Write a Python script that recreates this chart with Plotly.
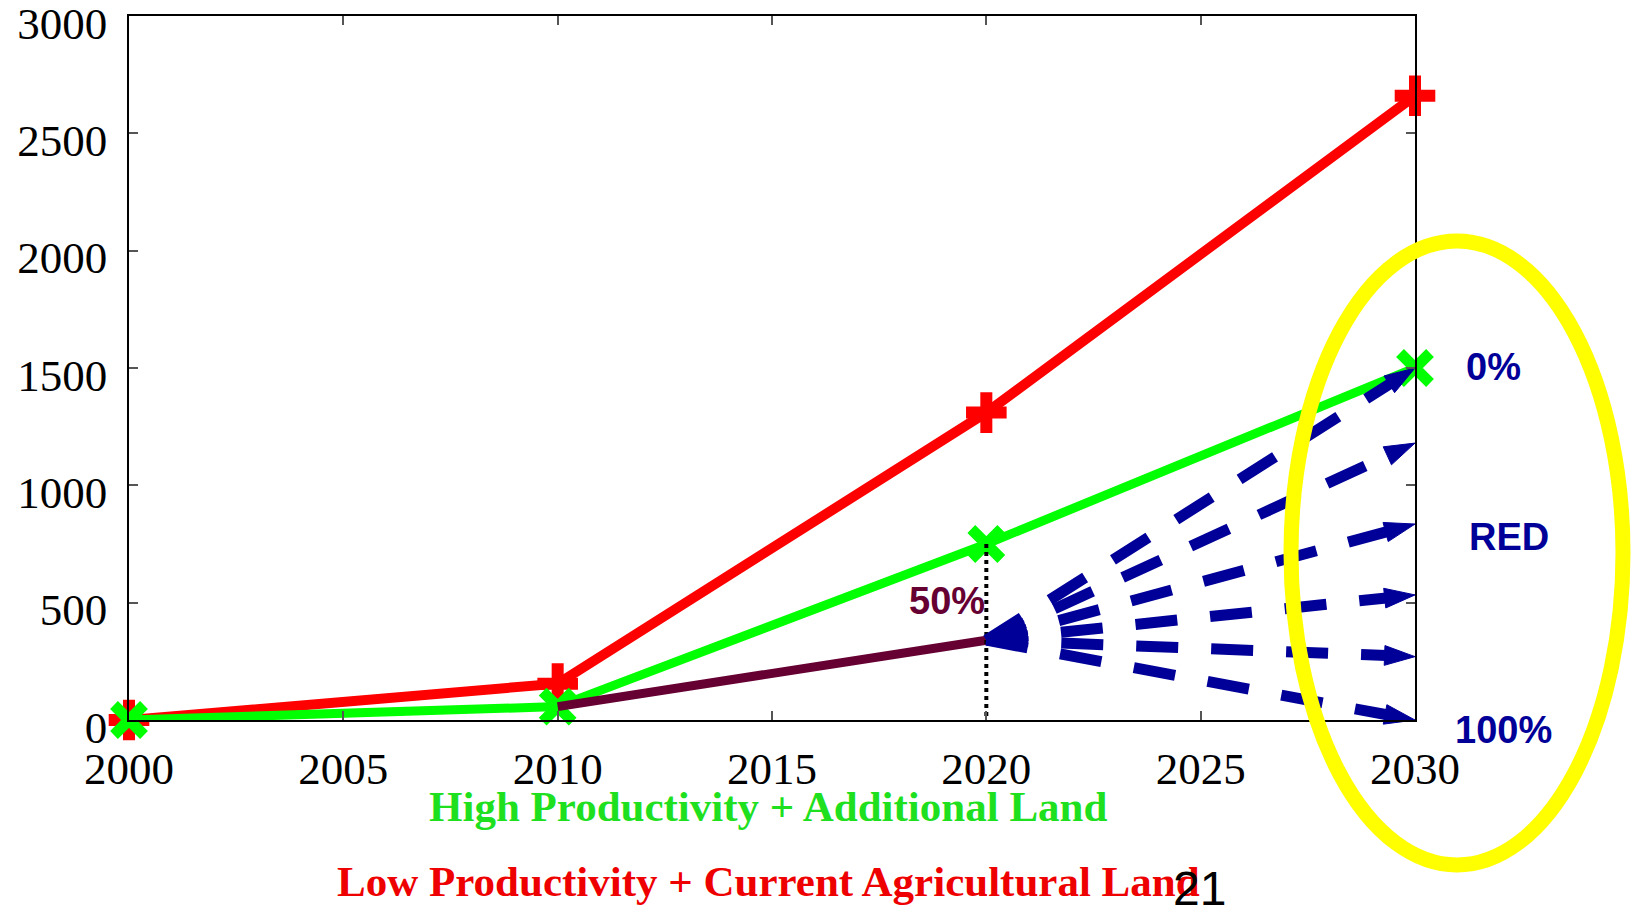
import plotly.graph_objects as go

# ---------------- data ----------------
years = [2000, 2010, 2020, 2030]
low_prod_current_land = [0, 155, 1310, 2660]      # red
high_prod_additional_land = [0, 57, 750, 1500]     # green
red_path_years = [2010, 2020]
red_path_values = [57, 340]                         # dark maroon (50%)
arrow_start_year = 2020
arrow_start_value = 340
arrow_end_year = 2030
arrow_end_values = [1500, 1180, 835, 533, 270, 0]  # 0% ... 100%

x_ticks = [2000, 2005, 2010, 2015, 2020, 2025, 2030]
y_ticks = [0, 500, 1000, 1500, 2000, 2500, 3000]

# ---------------- layout geometry ----------------
W_PAGE, H_PAGE = 1633, 905
L, T, PW, PH = 129, 16, 1286, 704


def px(x):
    return (x - L) / PW


def py(y):
    return (T + PH - y) / PH


RED = "#FF0000"
GREEN = "#00FF00"
MAROON = "#660033"
BLUE = "#000099"
SERIF = "Liberation Serif, Times New Roman, serif"
SANS = "Liberation Sans, Arial, sans-serif"

fig = go.Figure()

# red line
fig.add_trace(go.Scatter(
    x=years, y=low_prod_current_land, mode="lines+markers",
    line=dict(color=RED, width=10),
    marker=dict(symbol="cross-thin", size=29, line=dict(color=RED, width=12)),
    showlegend=False, hoverinfo="skip", cliponaxis=False))

# green line
fig.add_trace(go.Scatter(
    x=years, y=high_prod_additional_land, mode="lines+markers",
    line=dict(color=GREEN, width=9),
    marker=dict(symbol="x-thin", size=30, line=dict(color=GREEN, width=11)),
    showlegend=False, hoverinfo="skip", cliponaxis=False))

# maroon path
fig.add_trace(go.Scatter(
    x=red_path_years, y=red_path_values, mode="lines",
    line=dict(color=MAROON, width=9),
    showlegend=False, hoverinfo="skip"))

# dotted vertical at 2020
fig.add_trace(go.Scatter(
    x=[years[2], years[2]], y=[high_prod_additional_land[2], 0], mode="lines",
    line=dict(color="black", width=4, dash="dot"),
    showlegend=False, hoverinfo="skip"))

# dashed blue arrows
for v in arrow_end_values:
    fig.add_trace(go.Scatter(
        x=[arrow_start_year, arrow_end_year], y=[arrow_start_value, v],
        mode="lines+markers",
        line=dict(color=BLUE, width=11, dash="42px,33px"),
        marker=dict(symbol="arrow", size=[0, 32], angleref="previous",
                    color=BLUE, opacity=1, line=dict(color=BLUE, width=1)),
        showlegend=False, hoverinfo="skip", cliponaxis=False))

# yellow ellipse
fig.add_shape(type="circle", xref="paper", yref="paper",
              x0=px(1291), x1=px(1623), y0=py(865), y1=py(241),
              line=dict(color="#FFFF00", width=15), layer="above")

annotations = [
    dict(text="<b>0%</b>", x=px(1493), y=py(367), font=dict(family=SANS, size=38, color=BLUE)),
    dict(text="<b>RED</b>", x=px(1509), y=py(537), font=dict(family=SANS, size=38, color=BLUE)),
    dict(text="<b>100%</b>", x=px(1503), y=py(730), font=dict(family=SANS, size=38, color=BLUE)),
    dict(text="<b>50%</b>", x=px(947), y=py(601), font=dict(family=SANS, size=38, color=MAROON)),
    dict(text="<b>High Productivity + Additional Land</b>", x=px(768), y=py(806),
         font=dict(family=SERIF, size=43, color="#1EE01E")),
    dict(text="<b>Low Productivity + Current Agricultural Land</b>", x=px(768), y=py(881),
         font=dict(family=SERIF, size=43, color="#EE0000")),
    dict(text="21", x=px(1199), y=py(888), font=dict(family=SANS, size=48, color="black")),
]
for a in annotations:
    fig.add_annotation(xref="paper", yref="paper", showarrow=False,
                       xanchor="center", yanchor="middle", **a)

axis_common = dict(
    showline=True, linecolor="black", linewidth=1.5, mirror="ticks",
    ticks="inside", ticklen=9, tickcolor="#555555", tickwidth=1.5,
    showgrid=False, zeroline=False, ticklabeloverflow="allow", automargin=False,
    tickfont=dict(family=SERIF, size=45, color="black"),
)

fig.update_xaxes(range=[2000, 2030], tickvals=x_ticks, ticktext=[str(t) for t in x_ticks],
                 ticklabelstandoff=8, ticklabelshift=0, **axis_common)
fig.update_yaxes(range=[0, 3000], tickvals=y_ticks, ticktext=[str(t) for t in y_ticks],
                 ticklabelstandoff=11, ticklabelshift=7, **axis_common)

fig.update_layout(
    width=W_PAGE, height=H_PAGE,
    margin=dict(l=L, r=W_PAGE - L - PW, t=T, b=H_PAGE - T - PH, autoexpand=False),
    plot_bgcolor="white", paper_bgcolor="white",
    showlegend=False,
)

fig.write_html("out.html", config={"displayModeBar": False},
               post_script="document.body.style.margin='0';document.body.style.overflow='hidden';")
